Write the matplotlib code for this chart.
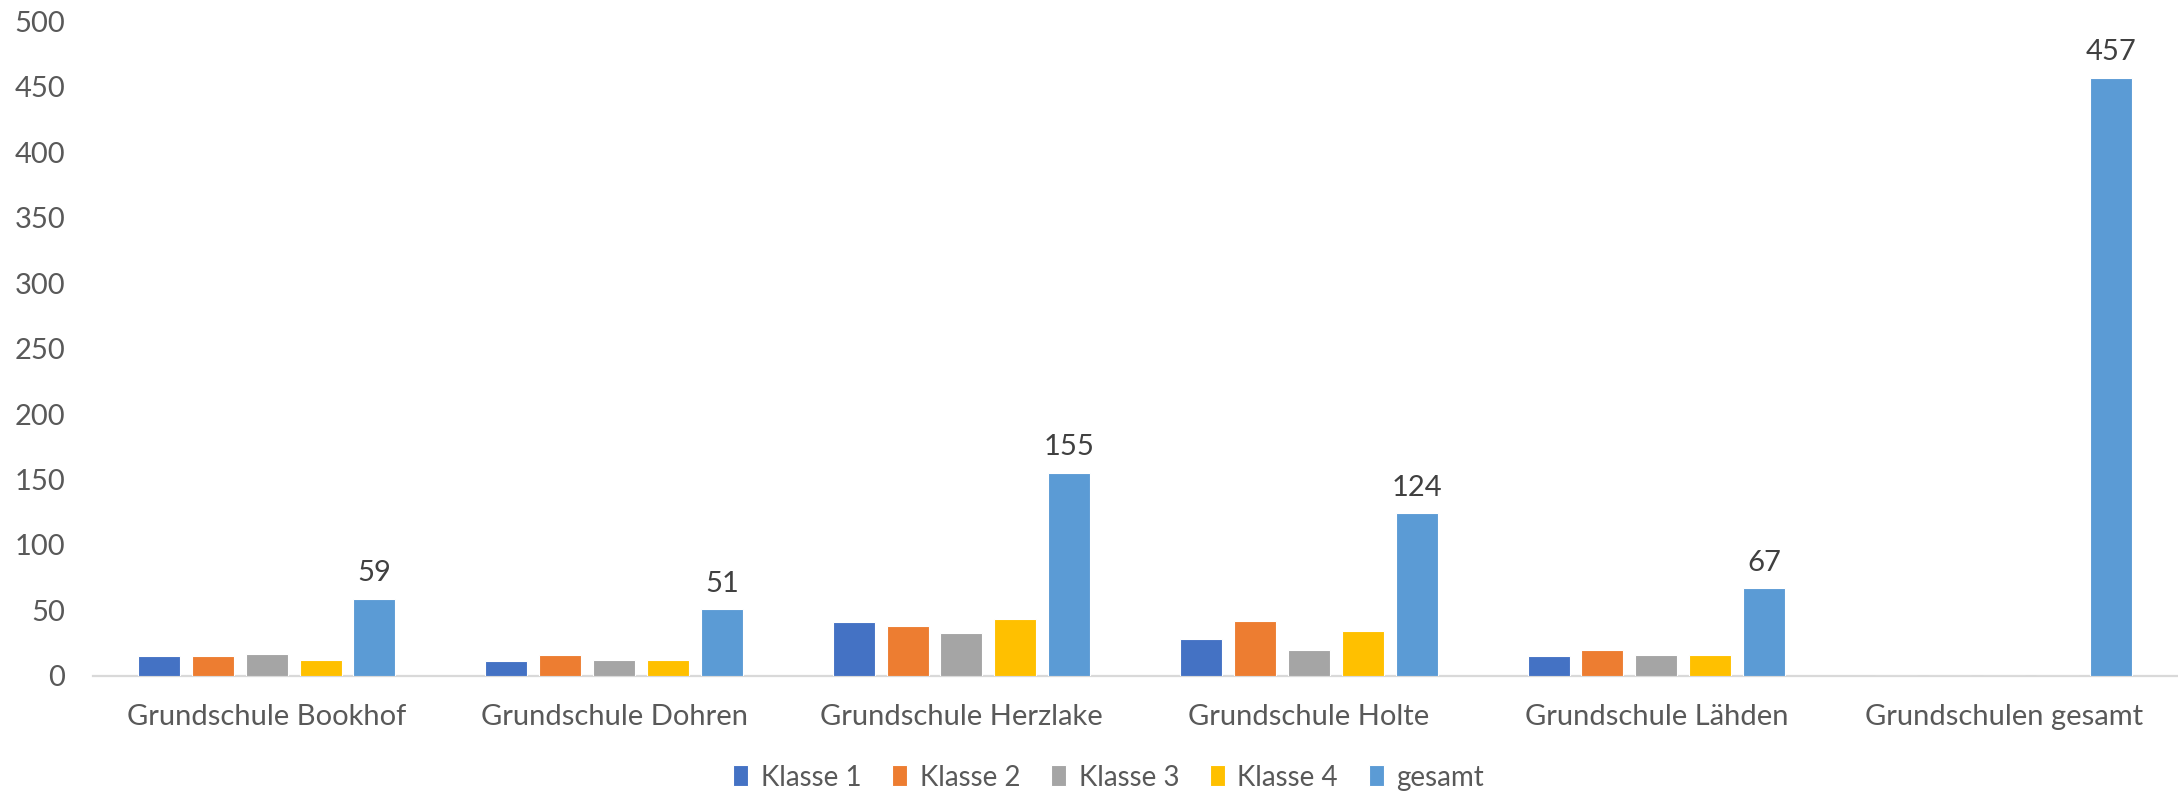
import matplotlib
matplotlib.use("Agg")
import matplotlib.pyplot as plt
import numpy as np

# data
schools = ["Grundschule Bookhof", "Grundschule Dohren", "Grundschule Herzlake",
           "Grundschule Holte", "Grundschule Lähden", "Grundschulen gesamt"]
klasse1 = [15, 11, 41, 28, 15, 0]
klasse2 = [15, 16, 38, 42, 20, 0]
klasse3 = [17, 12, 33, 20, 16, 0]
klasse4 = [12, 12, 43, 34, 16, 0]
gesamt = [59, 51, 155, 124, 67, 457]

series_names = ["Klasse 1", "Klasse 2", "Klasse 3", "Klasse 4", "gesamt"]
series_colors = ["#4472C4", "#ED7D31", "#A5A5A5", "#FFC000", "#5B9BD5"]

plt.rcParams["font.family"] = ["Lato", "DejaVu Sans"]
text_color = "#595959"

fig = plt.figure(figsize=(21.78, 7.95), dpi=100)
ax = fig.add_axes([0.0427, 0.150, 0.957, 0.823])

x = np.arange(len(schools))
slot = 0.155
width = 0.121
all_series = [klasse1, klasse2, klasse3, klasse4, gesamt]

handles = []
for i, (vals, name, color) in enumerate(zip(all_series, series_names, series_colors)):
    offset = (i - 2) * slot
    bars = ax.bar(x + offset, vals, width, color=color, label=name,
                  edgecolor="white", linewidth=0.8, zorder=3)
    handles.append(bars)

# labels on the "gesamt" series only
for xi, v in zip(x, gesamt):
    ax.annotate(str(v), (xi + 2 * slot, v), xytext=(0, 9), textcoords="offset points",
                ha="center", va="bottom", fontsize=21, color="#404040")

ax.set_xlim(-0.5, len(schools) - 0.5)
ax.set_ylim(0, 500)
ax.set_yticks(range(0, 501, 50))
ax.set_xticks(x)
ax.set_xticklabels(schools)

for side in ["top", "right", "left"]:
    ax.spines[side].set_visible(False)
ax.spines["bottom"].set_color("#D9D9D9")
ax.spines["bottom"].set_linewidth(1.6)

ax.tick_params(axis="x", length=0, pad=20, labelsize=21, colors=text_color)
ax.tick_params(axis="y", length=0, pad=20, labelsize=21, colors=text_color)

fig.legend(handles=handles, labels=series_names, loc="center",
           bbox_to_anchor=(0.509, 0.022), ncol=5, frameon=False,
           fontsize=20, labelcolor=text_color, handlelength=0.55,
           handleheight=0.8, handletextpad=0.45, columnspacing=1.1)

fig.savefig("out.png", dpi=100)
